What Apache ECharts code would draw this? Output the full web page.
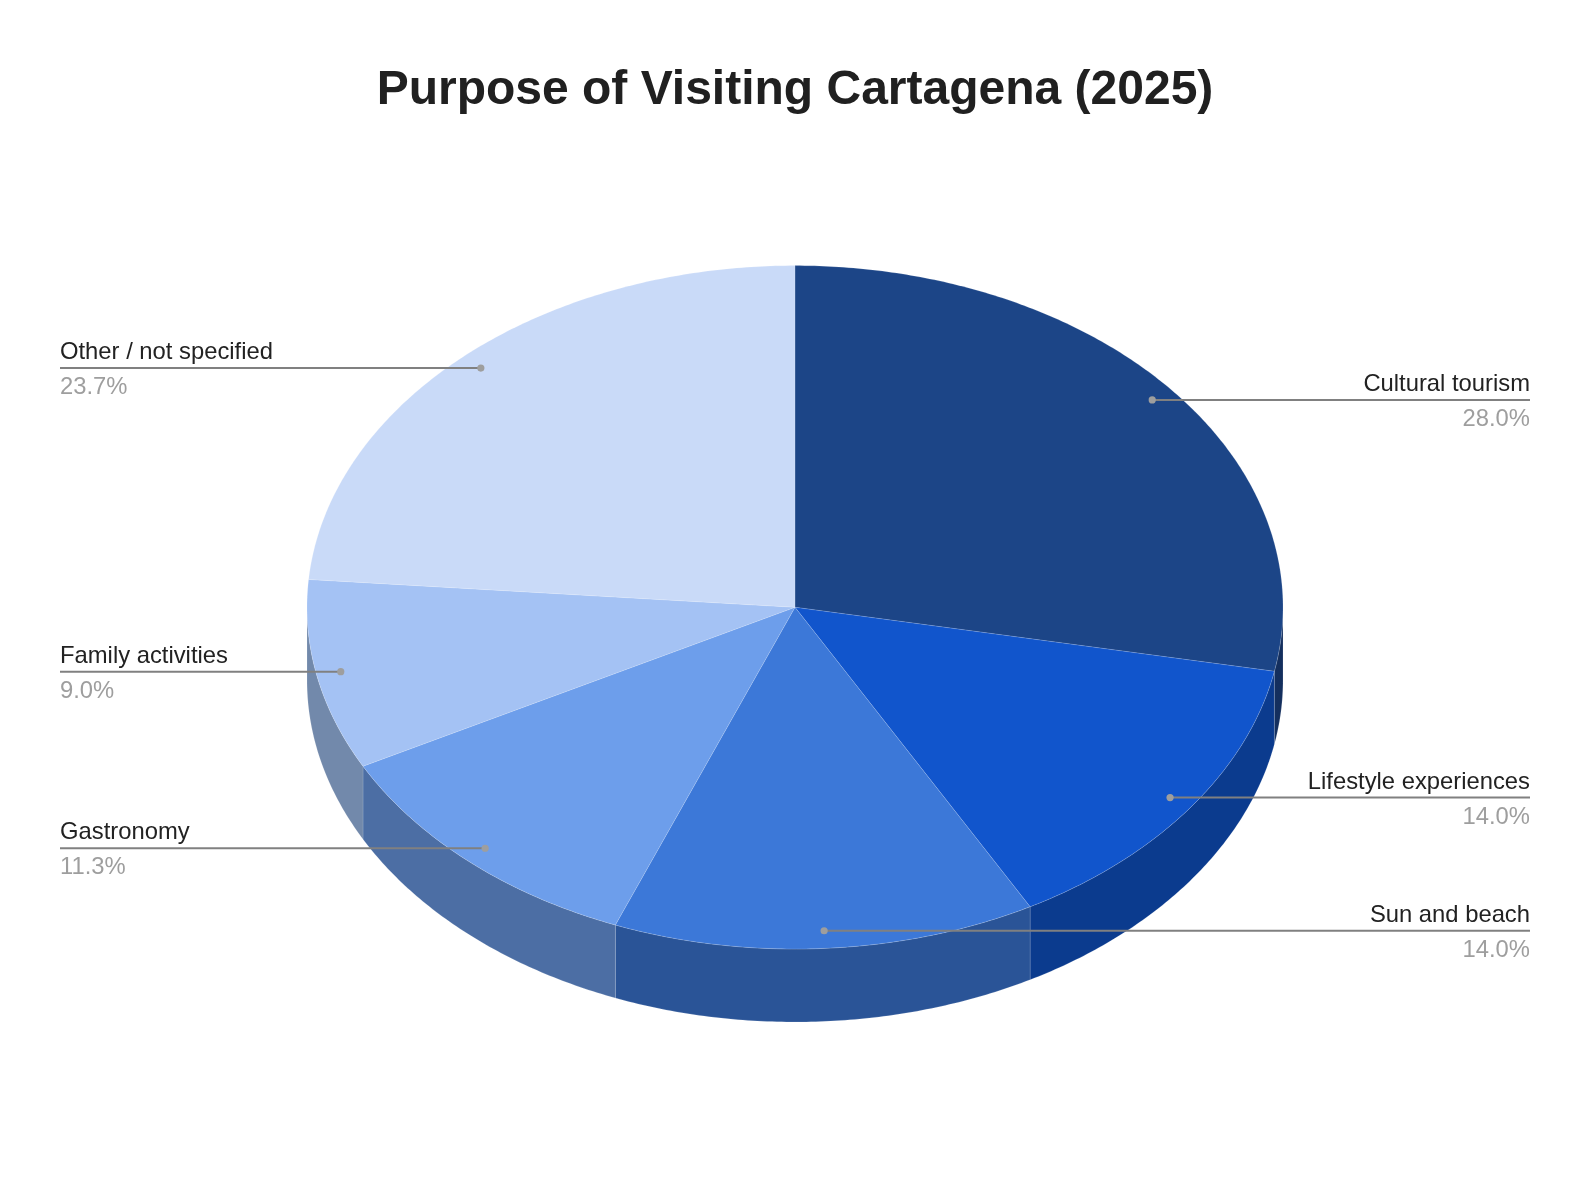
<!DOCTYPE html>
<html><head><meta charset="utf-8">
<style>html,body{margin:0;padding:0;background:#fff}#c{width:1590px;height:1192px}</style>
<script src="https://cdn.jsdelivr.net/npm/echarts@6/dist/echarts.min.js"></script>
</head><body><div id="c"></div>
<script>
const titleText = 'Purpose of Visiting Cartagena (2025)';
const categories = ['Cultural tourism','Lifestyle experiences','Sun and beach','Gastronomy','Family activities','Other / not specified'];
const shares = [28.0,14.0,14.0,11.3,9.0,23.7];
const topColors = ['#1c4587','#1155cc','#3c78d8','#6d9eeb','#a4c2f4','#c9daf8'];
const sideColors = ['#142f5e','#0b3b8e','#2a5497','#4c6ea4','#7289ab','#8c98ae'];

const CX=795, CY=607.3, RX=488, RY=341.7, DEPTH=73;
const EDGE_L=60, EDGE_R=1530, ANCHOR=0.95;
const total = shares.reduce((a,b)=>a+b,0);
let run=0;
const rows = shares.map(v=>{const r=[run,run+v,v];run+=v;return r;});
const rad = s => s/total*2*Math.PI;
const unit = a => [Math.sin(a),Math.cos(a)];
function arc(api,a0,a1){
  const n=Math.max(2,Math.ceil((a1-a0)/0.01));const p=[];
  for(let i=0;i<=n;i++)p.push(api.coord(unit(a0+(a1-a0)*i/n)));
  return p;
}
const seam='rgba(255,255,255,0.14)';
function renderSide(params,api){
  const a0=Math.max(rad(api.value(0)),Math.PI/2), a1=Math.min(rad(api.value(1)),Math.PI*1.5);
  if(a1<=a0) return {type:'group',children:[]};
  const t=arc(api,a0,a1);
  const b=t.map(p=>[p[0],p[1]+DEPTH]).reverse();
  return {type:'polygon',shape:{points:t.concat(b)},style:{fill:sideColors[params.dataIndex],stroke:seam,lineWidth:1}};
}
function renderTop(params,api){
  const t=arc(api,rad(api.value(0)),rad(api.value(1)));
  t.push(api.coord([0,0]));
  return {type:'polygon',shape:{points:t},style:{fill:topColors[params.dataIndex],stroke:seam,lineWidth:1}};
}
function renderLabel(params,api){
  const mid=(rad(api.value(0))+rad(api.value(1)))/2;
  const u=unit(mid);
  const d=api.coord([u[0]*ANCHOR,u[1]*ANCHOR]);
  const right=u[0]>0, ex=right?EDGE_R:EDGE_L, al=right?'right':'left';
  return {type:'group',children:[
    {type:'line',shape:{x1:d[0],y1:d[1]-0.5,x2:ex,y2:d[1]-0.5},style:{stroke:'#808080',lineWidth:2}},
    {type:'circle',shape:{cx:d[0],cy:d[1]-0.5,r:3.6},style:{fill:'#9e9e9e'}},
    {type:'text',style:{x:ex,y:d[1]-4,text:categories[params.dataIndex],fill:'#222222',font:'23.8px "Liberation Sans"',align:al,verticalAlign:'bottom'}},
    {type:'text',style:{x:ex,y:d[1]+7,text:api.value(2).toFixed(1)+'%',fill:'#9e9e9e',font:'23.8px "Liberation Sans"',align:al,verticalAlign:'top'}}
  ]};
}
const chart=echarts.init(document.getElementById('c'),null,{renderer:'canvas'});
chart.setOption({
  animation:false,backgroundColor:'#ffffff',
  title:{text:titleText,left:'center',top:62,textStyle:{fontFamily:'Liberation Sans',fontWeight:'bold',fontSize:48,color:'#202020'}},
  grid:{left:CX-RX,top:CY-RY,width:RX*2,height:RY*2},
  xAxis:{type:'value',min:-1,max:1,show:false},
  yAxis:{type:'value',min:-1,max:1,show:false},
  series:[
    {type:'custom',z:1,clip:false,silent:true,renderItem:renderSide,data:rows,encode:{x:0,y:1}},
    {type:'custom',z:2,clip:false,silent:true,renderItem:renderTop,data:rows,encode:{x:0,y:1}},
    {type:'custom',z:3,clip:false,silent:true,renderItem:renderLabel,data:rows,encode:{x:0,y:1}}
  ]
});
</script></body></html>
